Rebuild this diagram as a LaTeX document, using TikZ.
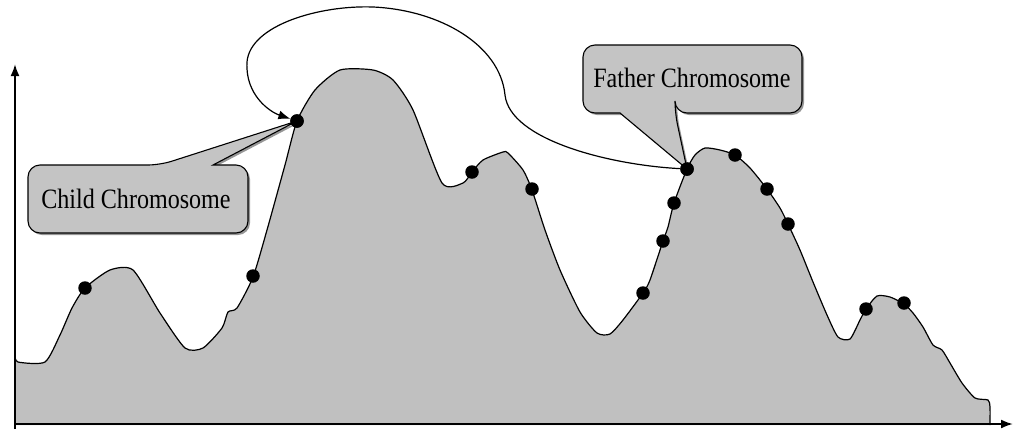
\documentclass[tikz,border=0pt]{standalone}
\usepackage{fontspec}
\setmainfont{Liberation Serif}
\usetikzlibrary{arrows.meta}
\definecolor{areagray}{RGB}{192,192,192}
\definecolor{boxgray}{RGB}{196,196,196}
\definecolor{shadowgray}{RGB}{150,150,150}
\begin{document}
\begin{tikzpicture}[x=1pt,y=-1pt,
  dot/.style={circle,fill=black,inner sep=0pt,minimum size=13.5pt},
  curveline/.style={draw=black,line width=1.2pt},
  calloutbox/.style={fill=boxgray,draw=black,line width=1.1pt},
  calloutshadow/.style={fill=shadowgray},
  lbl/.style={font=\fontsize{28}{30}\selectfont,xscale=0.86,inner sep=0pt},
  axisline/.style={line width=2pt,-{Latex[length=12pt,width=9pt]}},
  linkline/.style={line width=1.2pt,-{Latex[length=12pt,width=9pt]}}]
\useasboundingbox (0,0) rectangle (1013,429);

% filled landscape
\fill[areagray] (15,425) -- plot[smooth,tension=0.4] coordinates {
(15,355) (18,362) (45,362) (60,335) (72,308) (85,288) (110,270) (133,270) (160,313) (185,348) (203,348) (222,328) (228,312) (237,308) (253,277) (267,230) (285,165) (297,121) (315,90) (340,70) (373,70) (393,80) (413,110) (442,183) (463,183) (472,172) (483,160) (503,152) (508,153) (523,170) (532,190) (545,230) (560,270) (580,312) (597,333) (610,334) (623,320) (643,293) (650,280) (663,241) (668,227) (674,203) (687,169) (695,155) (705,148) (720,150) (735,155) (750,168) (767,189) (780,208) (788,224) (800,250) (813,282) (827,315) (838,337) (850,339) (860,320) (866,309) (877,296) (890,297) (904,304) (913,313) (923,327) (933,345) (942,350) (950,363) (962,383) (975,398) (988,400) (990,407) (990,425)} -- cycle;

% axes
\coordinate (origin) at (15,424);
\coordinate (ytip) at (15,64);
\coordinate (xtip) at (1013,424);
\draw[axisline] (15,429) -- (ytip);
\draw[axisline] (origin) -- (xtip);

% landscape outline
\draw[curveline] plot[smooth,tension=0.4] coordinates {
(15,355) (18,362) (45,362) (60,335) (72,308) (85,288) (110,270) (133,270) (160,313) (185,348) (203,348) (222,328) (228,312) (237,308) (253,277) (267,230) (285,165) (297,121) (315,90) (340,70) (373,70) (393,80) (413,110) (442,183) (463,183) (472,172) (483,160) (503,152) (508,153) (523,170) (532,190) (545,230) (560,270) (580,312) (597,333) (610,334) (623,320) (643,293) (650,280) (663,241) (668,227) (674,203) (687,169) (695,155) (705,148) (720,150) (735,155) (750,168) (767,189) (780,208) (788,224) (800,250) (813,282) (827,315) (838,337) (850,339) (860,320) (866,309) (877,296) (890,297) (904,304) (913,313) (923,327) (933,345) (942,350) (950,363) (962,383) (975,398) (988,400) (990,407) (990,425)};

% dots
\node[dot] (d1) at (85,288) {};
\node[dot] (d2) at (253,276) {};
\node[dot] (cd) at (297,121) {};
\node[dot] (d4) at (472,172) {};
\node[dot] (d5) at (532,189) {};
\node[dot] (d6) at (643,293) {};
\node[dot] (d7) at (663,241) {};
\node[dot] (d8) at (674,203) {};
\node[dot] (fd) at (687,169) {};
\node[dot] (d10) at (735,155) {};
\node[dot] (d11) at (767,189) {};
\node[dot] (d12) at (788,224) {};
\node[dot] (d13) at (866,309) {};
\node[dot] (d14) at (904,303) {};

% child callout
\fill[calloutshadow] (30,200) [rounded corners=12] |- (162,167) [sharp corners] -- (299,123) -- (215,167) [rounded corners=12] -| (250,235) -| (30,200) -- cycle;
\draw[calloutbox] (28,200) [rounded corners=12] |- (160,165) [sharp corners] -- (cd.center) -- (213,165) [rounded corners=12] -| (248,233) -| (28,200) -- cycle;
\node[lbl] (child) at (136,199) {Child Chromosome};

% father callout
\fill[calloutshadow] (585,80) [rounded corners=12] |- (804,47) -- (804,115) -| (677,115) [sharp corners] -- (689,171) -- (622,115) [rounded corners=12] -| (585,80) -- cycle;
\draw[calloutbox] (583,80) [rounded corners=12] |- (802,45) -- (802,113) -| (675,113) [sharp corners] -- (fd.center) -- (620,113) [rounded corners=12] -| (583,80) -- cycle;
\node[lbl] (father) at (692,78) {Father Chromosome};

\node[dot] at (cd) {};
\node[dot] at (fd) {};

% crossover link
\draw[linkline] (fd) .. controls (610,165) and (510,140) .. (505,95)
  .. controls (500,45) and (440,10) .. (373,7)
  .. controls (320,5) and (250,25) .. (247,62)
  .. controls (245,95) and (270,112) .. (cd);
\end{tikzpicture}
\end{document}
